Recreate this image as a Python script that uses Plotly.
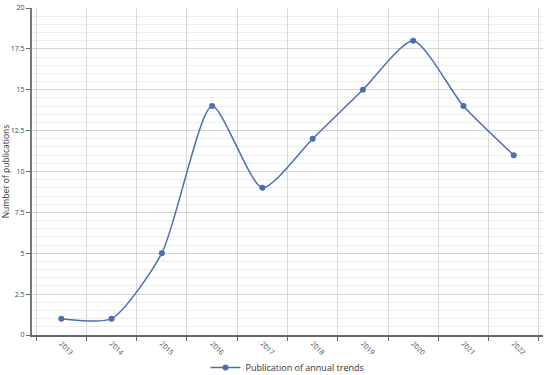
import plotly.graph_objects as go

years = ['2013', '2014', '2015', '2016', '2017', '2018', '2019', '2020', '2021', '2022']
publications = [1, 1, 5, 14, 9, 12, 15, 18, 14, 11]

line_color = '#4a6fb0'

fig = go.Figure()
fig.add_trace(go.Scatter(
    x=years, y=publications, name='Publication of annual trends',
    mode='lines+markers',
    line=dict(color=line_color, width=1.5, shape='spline', smoothing=0.65),
    marker=dict(color=line_color, size=6),
))

fig.update_layout(
    width=550, height=375,
    margin=dict(l=32, r=7, t=8, b=40, autoexpand=False),
    paper_bgcolor='white', plot_bgcolor='white',
    font=dict(family='Open Sans, sans-serif', size=8, color='#444'),
    showlegend=True,
    legend=dict(orientation='h', x=0.5, xanchor='center', y=-0.055, yanchor='top',
                bgcolor='rgba(0,0,0,0)', font=dict(size=9, color='#333')),
)
fig.update_xaxes(
    type='category', tickson='boundaries', tickangle=45, automargin=False,
    showgrid=True, gridcolor='#d9d9d9', gridwidth=1,
    showline=True, linecolor='#666', linewidth=1.5,
    ticks='outside', ticklen=4, tickcolor='#666',
    tickfont=dict(size=7, color='#444'),
)
fig.update_yaxes(
    range=[0, 20], dtick=2.5, tickformat='~g', automargin=False,
    showgrid=True, gridcolor='#d4d4d4', gridwidth=1,
    minor=dict(dtick=0.5, showgrid=True, gridcolor='#ececec', gridwidth=1),
    showline=True, linecolor='#777', linewidth=2,
    ticks='outside', ticklen=4, tickcolor='#666',
    zeroline=False,
    title=dict(text='Number of publications', font=dict(size=8.5, color='#333'), standoff=2),
    tickfont=dict(size=7, color='#444'),
)

# page body has a default 8px margin; drop it so the figure fills the window
fig.write_html("out.html", config={'displayModeBar': False},
               post_script="document.body.style.margin='0';")
